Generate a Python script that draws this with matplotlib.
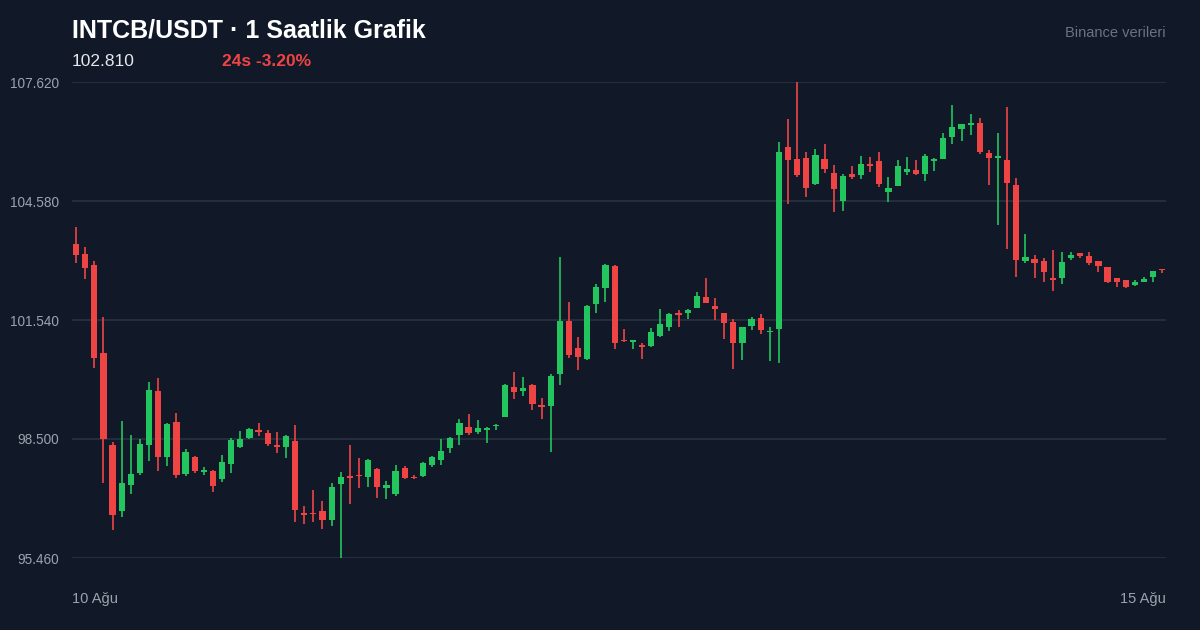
import matplotlib
matplotlib.use("Agg")
import matplotlib.pyplot as plt
import numpy as np

opens = [103.48,103.23,102.95,100.70,98.35,96.66,97.32,97.63,98.35,99.73,
         98.04,98.93,97.60,98.04,97.65,97.68,97.48,97.86,98.30,98.53,
         98.70,98.65,98.35,98.30,98.45,96.58,96.61,96.66,96.43,97.35,
         97.55,97.58,97.53,97.73,97.25,97.09,97.76,97.53,97.55,97.84,
         97.96,98.27,98.60,98.81,98.68,98.73,98.83,99.06,99.83,99.73,
         99.88,99.37,99.34,100.16,101.52,100.83,100.54,101.95,102.36,102.92,
         101.03,100.99,100.88,100.88,101.13,101.36,101.72,101.72,101.85,102.13,
         101.90,101.72,101.49,100.95,101.39,101.59,101.23,101.31,105.96,105.65,
         105.68,105.01,105.65,105.29,104.58,105.27,105.24,105.52,105.60,104.81,
         104.96,105.32,105.37,105.27,105.60,105.65,106.21,106.42,106.52,106.57,
         105.81,105.68,105.63,104.99,103.05,103.10,103.05,102.61,102.61,103.12,
         103.25,103.18,103.05,102.89,102.61,102.56,102.43,102.51,102.64,102.84]
highs = [103.92,103.41,103.05,101.62,98.42,98.96,98.60,98.50,99.96,100.06,
         98.91,99.16,98.24,98.07,97.78,97.71,98.09,98.52,98.70,98.78,
         98.91,98.73,98.68,98.60,98.86,96.79,97.20,96.92,97.37,97.66,
         98.35,98.02,97.99,97.76,97.42,97.84,97.81,97.58,97.91,98.07,
         98.50,98.55,99.01,99.14,98.99,98.81,98.88,99.90,100.21,100.08,
         99.90,99.55,100.16,103.16,102.00,101.11,101.92,102.46,102.97,102.95,
         101.31,101.03,100.96,101.34,101.82,101.72,101.80,101.82,102.25,102.61,
         102.10,101.72,101.57,101.36,101.62,101.69,101.36,106.09,106.67,107.62,
         105.83,105.91,106.04,105.50,105.27,105.47,105.73,105.70,105.83,105.19,
         105.63,105.70,105.63,105.78,105.68,106.32,107.03,106.55,106.80,106.70,
         105.88,106.32,106.98,105.17,103.74,103.20,103.12,103.33,103.28,103.28,
         103.25,103.28,103.05,102.89,102.61,102.56,102.56,102.64,102.79,102.85]
lows = [103.00,102.59,100.31,97.37,96.18,96.51,97.09,97.58,97.94,97.68,
        97.81,97.50,97.55,97.63,97.58,97.14,97.40,97.63,98.27,98.50,
        98.58,98.32,98.14,98.02,96.38,96.33,96.38,96.20,96.28,95.46,
        96.84,97.25,97.27,96.99,96.97,97.04,97.48,97.48,97.53,97.78,
        97.84,98.14,98.35,98.60,98.63,98.40,98.73,99.06,99.52,99.60,
        99.24,99.01,98.17,99.88,100.57,100.26,100.52,101.72,102.00,100.80,
        100.98,100.80,100.54,100.85,101.11,101.26,101.36,101.57,101.85,101.97,
        101.54,101.05,100.28,100.52,101.28,101.18,100.49,100.44,104.50,105.19,
        104.68,104.99,105.29,104.30,104.32,105.14,105.14,105.32,104.94,104.55,
        104.96,105.24,105.24,105.09,105.35,105.65,106.04,106.11,106.27,105.78,
        104.99,103.97,103.35,102.64,102.99,102.61,102.51,102.28,102.46,103.07,
        103.12,102.94,102.77,102.48,102.38,102.35,102.41,102.51,102.51,102.75]
closes = [103.20,102.87,100.57,98.50,96.56,97.37,97.60,98.37,99.75,98.04,
          98.88,97.58,98.17,97.68,97.71,97.30,97.91,98.47,98.50,98.76,
          98.68,98.37,98.30,98.58,96.69,96.56,96.58,96.43,97.27,97.53,
          97.50,97.55,97.96,97.27,97.32,97.68,97.50,97.50,97.88,98.04,
          98.19,98.53,98.91,98.65,98.78,98.76,98.86,99.88,99.70,99.80,
          99.39,99.32,100.11,101.52,100.65,100.60,101.90,102.38,102.95,100.95,
          101.00,101.02,100.85,101.24,101.44,101.69,101.67,101.80,102.15,101.97,
          101.82,101.46,100.95,101.36,101.57,101.28,101.26,105.83,105.63,105.24,
          104.91,105.75,105.39,104.88,105.22,105.19,105.52,105.47,105.01,104.91,
          105.47,105.39,105.27,105.73,105.65,106.19,106.47,106.55,106.57,105.83,
          105.68,105.70,105.04,103.07,103.15,102.99,102.77,102.56,103.02,103.20,
          103.18,102.99,102.92,102.51,102.51,102.38,102.51,102.59,102.79,102.81]

yticks = [95.460, 98.500, 101.540, 104.580, 107.620]
xlabels = ["10 Ağu", "15 Ağu"]
title = "INTCB/USDT · 1 Saatlik Grafik"
last_price = "102.810"
change = "24s -3.20%"
source = "Binance verileri"

BG = "#111827"
GREEN = "#22c55e"
RED = "#ef4444"
GRID = "#283241"
TXT = "#9ca3af"

plt.rcParams['font.family'] = ['Liberation Sans', 'DejaVu Sans']
fig = plt.figure(figsize=(12, 6.3), dpi=100, facecolor=BG)
ax = fig.add_axes([0.06, 72/630, (1166-72)/1200, 476/630])
ax.set_facecolor(BG)

o = np.array(opens); c = np.array(closes); h = np.array(highs); l = np.array(lows)
x = np.arange(len(o))
up = c >= o
cols = np.where(up, GREEN, RED)
ax.vlines(x, l, h, colors=cols, linewidth=1.2, zorder=3, clip_on=False)
bottoms = np.minimum(o, c)
heights = np.maximum(np.abs(c - o), 0.04)
ax.bar(x, heights, bottom=bottoms, width=0.68, color=cols, zorder=4, clip_on=False)

ax.set_xlim(-0.44, 119.4)
ax.set_ylim(yticks[0], yticks[-1])
for t in yticks:
    ax.axhline(t, color=GRID, linewidth=1.2, zorder=1)
ax.set_yticks(yticks)
ax.set_yticklabels([f"{t:.3f}" for t in yticks])
ax.tick_params(axis='y', length=0, pad=10, labelcolor=TXT, labelsize=10)
for lbl in ax.get_yticklabels():
    lbl.set_x(-0.004)
ax.tick_params(axis='y', pad=6, labelsize=9.8)
ax.set_xticks([])
for s in ax.spines.values():
    s.set_visible(False)

fig.text(72/1200, 1-599/630, xlabels[0], color=TXT, fontsize=10.5, ha='left', va='center')
fig.text(1166/1200, 1-599/630, xlabels[1], color=TXT, fontsize=10.5, ha='right', va='center')
fig.text(72/1200, 1-30/630, title, color="white", fontsize=18, fontweight='bold', ha='left', va='center')
fig.text(72/1200, 1-61/630, last_price, color="#e5e7eb", fontsize=12.5, ha='left', va='center')
fig.text(222/1200, 1-61/630, change, color=RED, fontsize=12.5, fontweight='bold', ha='left', va='center')
fig.text(1166/1200, 1-33/630, source, color="#6b7280", fontsize=10.5, ha='right', va='center')

fig.savefig("out.png", dpi=100, facecolor=BG)
